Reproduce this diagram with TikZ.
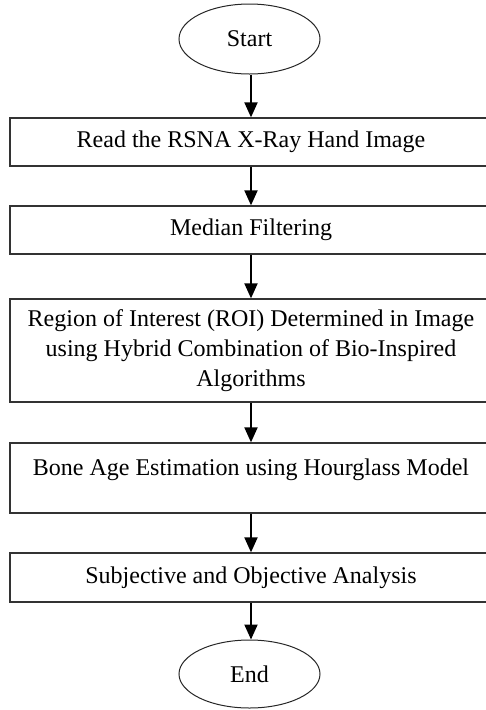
\documentclass[tikz,border=0pt]{standalone}
\usepackage{fontspec}
\setmainfont{Liberation Serif}
\usetikzlibrary{shapes.geometric,arrows.meta}
\begin{document}
\begin{tikzpicture}[x=1pt,y=-1pt,
  every node/.style={font=\fontsize{24}{30}\selectfont, text=black},
  procbox/.style={draw=black!80, line width=1.3pt, rectangle, minimum width=482pt, inner sep=0pt, align=center},
  termnode/.style={draw=black!85, line width=1pt, ellipse, minimum width=141pt, inner sep=0pt},
  flow/.style={draw=black, line width=2pt, -{Triangle[width=13pt,length=15pt]}}]
\useasboundingbox (0,0) rectangle (486,710);
\node[termnode, minimum height=70pt] (start) at (249.5,39) {Start};
\node[procbox, minimum height=48pt] (b1) at (251,142) {Read the RSNA X-Ray Hand Image};
\node[procbox, minimum height=48pt] (b2) at (251,230) {Median Filtering};
\node[procbox, minimum height=103pt] (b3) at (251,350.5) {Region of Interest (ROI) Determined in Image\\using Hybrid Combination of Bio-Inspired\\Algorithms};
\node[procbox, minimum height=70pt] (b4) at (251,478) {Bone Age Estimation using Hourglass Model\\[-8pt]\mbox{}};
\node[procbox, minimum height=49pt] (b5) at (251,577.5) {Subjective and Objective Analysis};
\node[termnode, minimum height=68pt] (end) at (249.5,674) {End};
\draw[flow] (start.south -| b1) -- (b1.north);
\draw[flow] (b1) -- (b2);
\draw[flow] (b2) -- (b3);
\draw[flow] (b3) -- (b4);
\draw[flow] (b4) -- (b5);
\draw[flow] (b5.south) -- (b5.south |- end.north);
\end{tikzpicture}
\end{document}
